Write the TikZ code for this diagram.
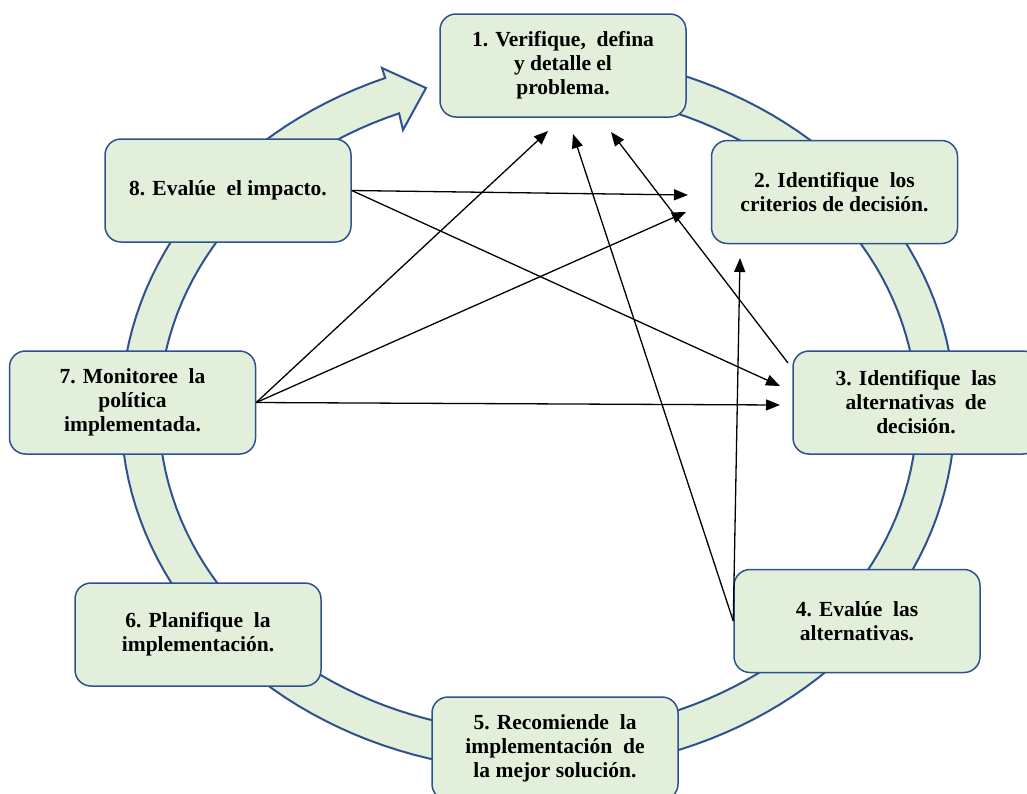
\documentclass[tikz,border=0pt]{standalone}
\usepackage{fontspec}
\setmainfont{Liberation Serif}
\usetikzlibrary{arrows.meta}
\definecolor{boxfill}{HTML}{E2EFDA}
\definecolor{boxline}{HTML}{2F528F}
\begin{document}
\begin{tikzpicture}[x=1pt,y=-1pt,
  stepbox/.style={draw=boxline, line width=1.5pt, fill=boxfill, rounded corners=16pt,
    minimum width=246pt, minimum height=103pt, align=center, inner sep=0pt,
    font=\bfseries\fontsize{21.5}{24}\selectfont},
  ring/.style={fill=boxfill, draw=boxline, line width=2pt, line join=miter},
  link/.style={draw=black, line width=1.3pt, -{Triangle[length=14pt,width=11pt]}}]
\useasboundingbox (0,0) rectangle (1027,793);

% circular band with arrowhead
\path[ring]
  plot[domain=-80:248.5, samples=150, variable=\t] ({538+417*cos(\t)},{412+359*sin(\t)})
  -- (382,68) -- (426,88) -- (403,130)
  -- plot[domain=248.5:-80, samples=150, variable=\t] ({538+379*cos(\t)},{412+321*sin(\t)})
  -- cycle;

% steps
\node[stepbox] (b1) at (563,65.5) {1. Verifique,\ \ defina\\ y detalle el\\ problema.};
\node[stepbox] (b2) at (834.5,192) {2. Identifique\ \ los\\ criterios de decisión.};
\node[stepbox] (b3) at (916,402.5) {3. Identifique\ \ las\\ alternativas\ \ de\\ decisión.};
\node[stepbox] (b4) at (857,621) {4. Evalúe\ \ las\\ alternativas.};
\node[stepbox] (b5) at (555,748.5) {5. Recomiende\ \ la\\ implementación\ \ de\\ la mejor solución.};
\node[stepbox] (b6) at (198,634.5) {6. Planifique\ \ la\\ implementación.};
\node[stepbox] (b7) at (132.5,402.5) {7. Monitoree\ \ la\\ política\\ implementada.};
\node[stepbox] (b8) at (228,190.5) {8. Evalúe\ \ el impacto.};

% free ends of connectors
\coordinate (s3) at (788,363);
\coordinate (t82) at (688,195);
\coordinate (t83) at (780,386);
\coordinate (t71) at (548,131);
\coordinate (t72) at (686,212);
\coordinate (t73) at (780,405);
\coordinate (t31) at (611,132);
\coordinate (t41) at (573,134);
\coordinate (t42) at (740,258);

% connectors
\draw[link] (b8.east) -- (t82);
\draw[link] (b8.east) -- (t83);
\draw[link] (b7.east) -- (t71);
\draw[link] (b7.east) -- (t72);
\draw[link] (b7.east) -- (t73);
\draw[link] (s3) -- (t31);
\draw[link] (b4.west) -- (t41);
\draw[link] (b4.west) -- (t42);
\end{tikzpicture}
\end{document}
